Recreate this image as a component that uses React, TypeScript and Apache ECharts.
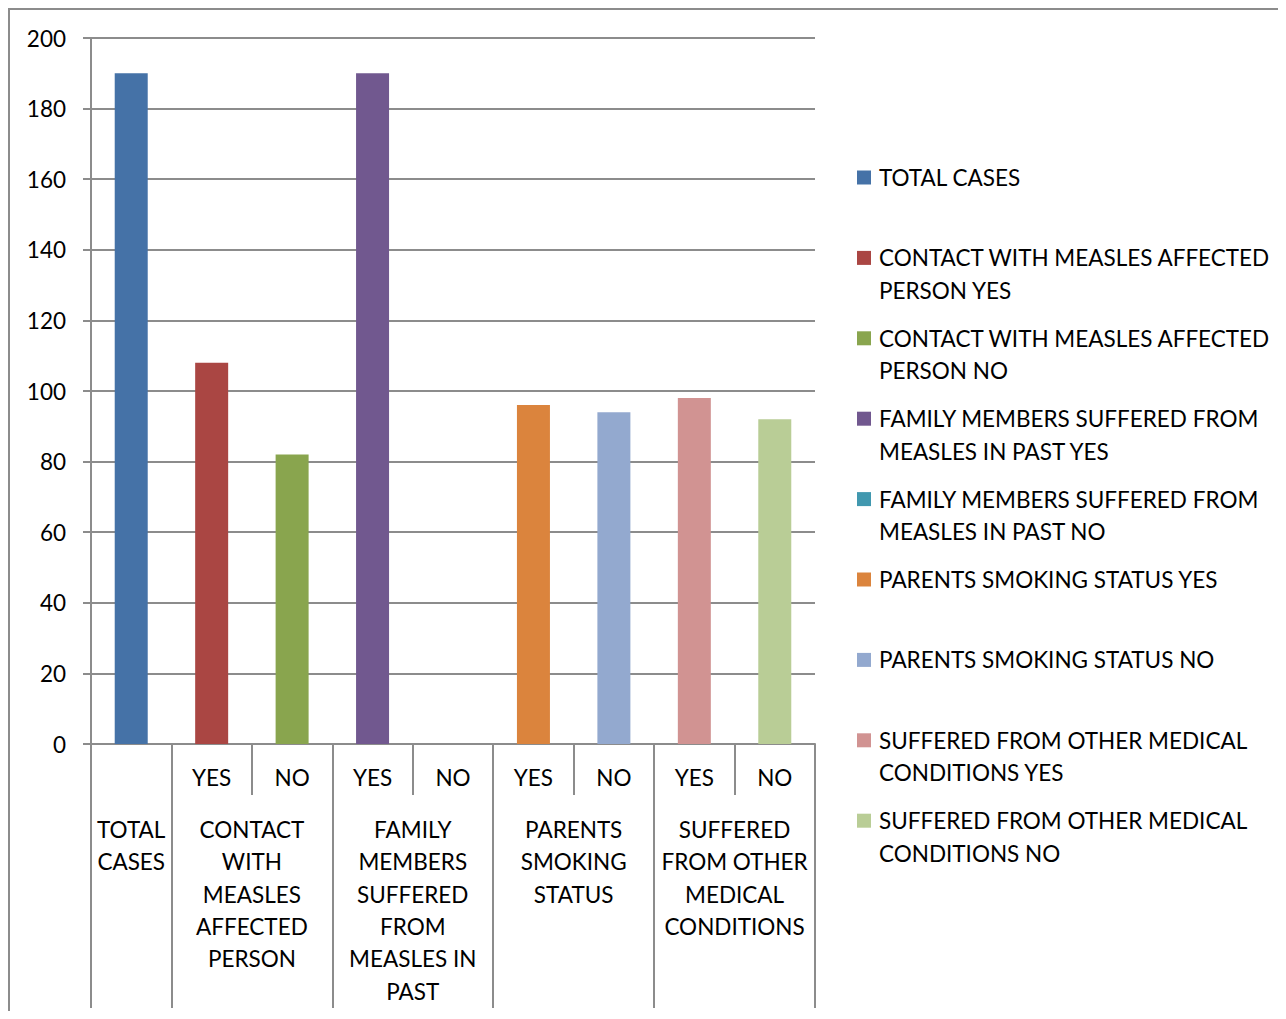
import { useEffect, useRef } from "react";
import * as echarts from "echarts";

// Survey responses: one bar per answer, grouped under its question.
const seriesNames = [
  "TOTAL CASES",
  "CONTACT WITH MEASLES AFFECTED PERSON YES",
  "CONTACT WITH MEASLES AFFECTED PERSON NO",
  "FAMILY MEMBERS SUFFERED FROM MEASLES IN PAST YES",
  "FAMILY MEMBERS SUFFERED FROM MEASLES IN PAST NO",
  "PARENTS SMOKING STATUS YES",
  "PARENTS SMOKING STATUS NO",
  "SUFFERED FROM OTHER MEDICAL CONDITIONS YES",
  "SUFFERED FROM OTHER MEDICAL CONDITIONS NO",
];
const seriesValues = [190, 108, 82, 190, 0, 96, 94, 98, 92];
const seriesColors = [
  "#4572A7",
  "#AA4643",
  "#89A54E",
  "#71588F",
  "#4198AF",
  "#DB843D",
  "#93A9CF",
  "#D19392",
  "#B9CD96",
];
const answerLabels = ["", "YES", "NO", "YES", "NO", "YES", "NO", "YES", "NO"];
const questionLabels = [
  "TOTAL\nCASES",
  "CONTACT\nWITH\nMEASLES\nAFFECTED\nPERSON",
  "FAMILY\nMEMBERS\nSUFFERED\nFROM\nMEASLES IN\nPAST",
  "PARENTS\nSMOKING\nSTATUS",
  "SUFFERED\nFROM OTHER\nMEDICAL\nCONDITIONS",
];
const questionStarts = [0, 1, 3, 5, 7];
const questionSpans = [1, 2, 2, 2, 2];
const yMin = 0;
const yMax = 200;
const yStep = 20;

const FONT = "Lato";
const FONT_SIZE = 22.5;
const GRAY = "#8c8c8c";
const LINE_H = 32.4;
const WIDTH = 1278;
const HEIGHT = 1003;
const LEGEND_WRAP_CHARS = 30;

// Word-wrap a legend entry so no line exceeds the character budget.
function wrapWords(text: string, maxChars: number): string {
  const lines: string[] = [];
  let current = "";
  for (const word of text.split(" ")) {
    const candidate = current ? `${current} ${word}` : word;
    if (candidate.length > maxChars && current) {
      lines.push(current);
      current = word;
    } else {
      current = candidate;
    }
  }
  if (current) lines.push(current);
  return lines.join("\n");
}

export default function App() {
  const ref = useRef<HTMLDivElement>(null);

  useEffect(() => {
    if (!ref.current) return;
    const chart = echarts.init(ref.current, undefined, { renderer: "svg" });

    const slotCount = answerLabels.length;
    const boundaries = [...questionStarts, slotCount];
    const centers = questionStarts.map((s, i) => s + questionSpans[i] / 2);

    const series = seriesNames.map((name, i) => ({
      name,
      type: "bar" as const,
      stack: "slot",
      xAxisIndex: 0,
      yAxisIndex: 0,
      barWidth: 33,
      itemStyle: { color: seriesColors[i] },
      data: seriesValues.map((v, j) => (j === i ? v : "-")),
    }));

    // Legend drawn as marker + wrapped text, evenly spaced down the right side.
    const legendTop = 169.5;
    const legendStep = 80.4;
    const legendItems = seriesNames.map((name, i) => ({
      type: "group",
      x: 849,
      y: legendTop + i * legendStep,
      children: [
        {
          type: "rect",
          shape: { x: 0, y: -7, width: 14, height: 14 },
          style: { fill: seriesColors[i] },
        },
        {
          type: "text",
          x: 22,
          y: -LINE_H / 2,
          style: {
            text: wrapWords(name, LEGEND_WRAP_CHARS),
            fill: "#000",
            font: `${FONT_SIZE}px ${FONT}`,
            lineHeight: LINE_H,
            verticalAlign: "top",
          },
        },
      ],
    }));

    chart.setOption({
      animation: false,
      textStyle: { fontFamily: FONT },
      grid: { left: 83, top: 30, right: WIDTH - 807, bottom: HEIGHT - 736 },
      xAxis: [
        {
          type: "category",
          data: answerLabels,
          boundaryGap: true,
          axisLine: { show: true, lineStyle: { color: GRAY, width: 2 } },
          axisTick: {
            show: true,
            interval: 0,
            length: 51,
            lineStyle: { color: GRAY, width: 2 },
          },
          axisLabel: {
            interval: 0,
            margin: 17,
            color: "#000",
            fontSize: FONT_SIZE,
            fontFamily: FONT,
            lineHeight: LINE_H,
          },
          splitLine: { show: false },
        },
        {
          type: "value",
          min: 0,
          max: slotCount,
          position: "bottom",
          axisLine: { show: false },
          splitLine: { show: false },
          axisTick: {
            show: true,
            customValues: boundaries,
            length: 264,
            lineStyle: { color: GRAY, width: 2 },
          },
          axisLabel: {
            show: true,
            customValues: centers,
            margin: 69,
            color: "#000",
            fontSize: FONT_SIZE,
            fontFamily: FONT,
            lineHeight: LINE_H,
            align: "center",
            formatter: (v: number) => {
              const k = centers.indexOf(v);
              return k >= 0 ? questionLabels[k] : "";
            },
          },
        },
      ],
      yAxis: {
        type: "value",
        min: yMin,
        max: yMax,
        interval: yStep,
        axisLine: { show: true, lineStyle: { color: GRAY, width: 2 } },
        axisTick: { show: true, length: 8, lineStyle: { color: GRAY, width: 2 } },
        splitLine: { show: true, lineStyle: { color: GRAY, width: 2 } },
        axisLabel: {
          margin: 25,
          color: "#000",
          fontSize: FONT_SIZE,
          fontFamily: FONT,
        },
      },
      series,
      graphic: [
        {
          type: "line",
          shape: { x1: 1, y1: 0, x2: 1, y2: HEIGHT },
          style: { stroke: GRAY, lineWidth: 2 },
        },
        {
          type: "line",
          shape: { x1: 0, y1: 1, x2: WIDTH, y2: 1 },
          style: { stroke: GRAY, lineWidth: 2 },
        },
        ...legendItems,
      ],
    });

    return () => chart.dispose();
  }, []);

  return <div ref={ref} style={{ width: WIDTH, height: HEIGHT }} />;
}
